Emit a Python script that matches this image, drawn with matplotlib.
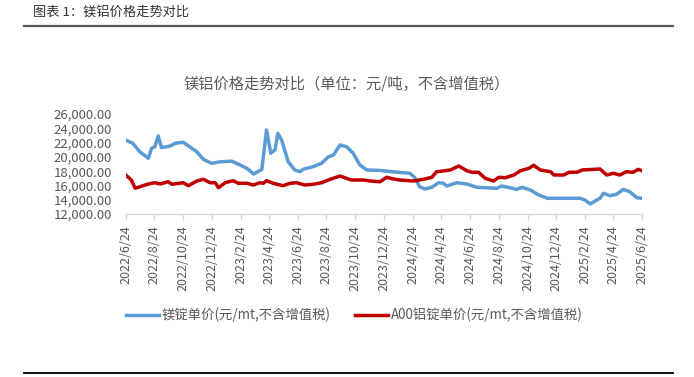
import matplotlib
matplotlib.use('Agg')
import matplotlib.pyplot as plt
from matplotlib.lines import Line2D
import pandas as pd

plt.rcParams['font.family'] = ['Noto Sans CJK SC', 'DejaVu Sans']

# 镁锭单价 (元/mt, 不含增值税)
mg_dates = ['2022-06-24', '2022-07-09', '2022-07-24', '2022-08-11', '2022-08-18', '2022-08-25',
            '2022-09-01', '2022-09-08', '2022-09-26', '2022-10-07', '2022-10-24', '2022-11-07',
            '2022-11-22', '2022-12-06', '2022-12-23', '2023-01-10', '2023-02-04', '2023-02-22',
            '2023-03-08', '2023-03-23', '2023-04-09', '2023-04-19', '2023-04-28', '2023-05-07',
            '2023-05-13', '2023-05-21', '2023-06-04', '2023-06-18', '2023-06-29', '2023-07-06',
            '2023-07-27', '2023-08-14', '2023-08-28', '2023-09-08', '2023-09-22', '2023-10-06',
            '2023-10-20', '2023-11-03', '2023-11-18', '2023-12-16', '2024-01-13', '2024-02-17',
            '2024-02-27', '2024-03-09', '2024-03-20', '2024-04-04', '2024-04-18', '2024-04-28',
            '2024-05-06', '2024-05-27', '2024-06-17', '2024-07-08', '2024-08-20', '2024-08-30',
            '2024-09-17', '2024-10-01', '2024-10-12', '2024-10-30', '2024-11-17', '2024-12-05',
            '2025-02-13', '2025-02-23', '2025-03-06', '2025-03-20', '2025-03-27', '2025-04-03',
            '2025-04-17', '2025-05-01', '2025-05-15', '2025-05-29', '2025-06-13', '2025-06-24']
mg_price = [22360, 21900, 20720, 19800, 21200, 21420,
            22920, 21300, 21500, 21900, 22040, 21400,
            20700, 19650, 19100, 19300, 19400, 18860,
            18400, 17600, 18260, 23760, 20500, 21000,
            23300, 22360, 19300, 18160, 17920, 18260,
            18630, 19100, 20000, 20260, 21660, 21420,
            20500, 18860, 18160, 18100, 17900, 17700,
            17140, 15820, 15500, 15740, 16380, 16300,
            15920, 16380, 16200, 15740, 15600, 15920,
            15680, 15440, 15740, 15360, 14660, 14200,
            14200, 13960, 13400, 13960, 14200, 14900,
            14560, 14760, 15440, 15120, 14280, 14200]

# A00铝锭单价 (元/mt, 不含增值税)
al_dates = ['2022-06-24', '2022-07-06', '2022-07-14', '2022-07-24', '2022-08-11', '2022-08-25',
            '2022-09-05', '2022-09-22', '2022-09-30', '2022-10-24', '2022-11-04', '2022-11-22',
            '2022-12-06', '2022-12-20', '2022-12-31', '2023-01-07', '2023-01-21', '2023-02-07',
            '2023-02-18', '2023-03-08', '2023-03-22', '2023-04-05', '2023-04-12', '2023-04-19',
            '2023-05-03', '2023-05-24', '2023-06-08', '2023-06-22', '2023-07-09', '2023-07-27',
            '2023-08-14', '2023-09-01', '2023-09-22', '2023-10-02', '2023-10-16', '2023-11-10',
            '2023-11-24', '2023-12-16', '2023-12-30', '2024-01-13', '2024-01-27', '2024-02-24',
            '2024-03-17', '2024-04-04', '2024-04-14', '2024-05-02', '2024-05-13', '2024-05-31',
            '2024-06-17', '2024-06-28', '2024-07-12', '2024-07-26', '2024-08-13', '2024-08-24',
            '2024-09-07', '2024-09-25', '2024-10-09', '2024-10-27', '2024-11-06', '2024-11-20',
            '2024-12-12', '2024-12-19', '2025-01-09', '2025-01-20', '2025-02-06', '2025-02-17',
            '2025-03-27', '2025-04-10', '2025-04-24', '2025-05-08', '2025-05-22', '2025-06-05',
            '2025-06-16', '2025-06-24']
al_price = [17460, 16760, 15600, 15820, 16200, 16380,
            16200, 16520, 16160, 16380, 15960, 16620,
            16860, 16380, 16380, 15680, 16380, 16660,
            16300, 16300, 16060, 16380, 16300, 16660,
            16300, 15960, 16300, 16380, 16060, 16160,
            16380, 16860, 17320, 17080, 16760, 16760,
            16620, 16520, 17140, 16900, 16760, 16620,
            16860, 17140, 17920, 18060, 18160, 18720,
            18060, 17840, 17840, 17000, 16620, 17140,
            17080, 17460, 18060, 18400, 18820, 18160,
            17920, 17460, 17460, 17840, 17840, 18160,
            18300, 17460, 17700, 17460, 17920, 17840,
            18260, 18060]

tick_dates = ['2022-06-24', '2022-08-24', '2022-10-24', '2022-12-24', '2023-02-24', '2023-04-24',
              '2023-06-24', '2023-08-24', '2023-10-24', '2023-12-24', '2024-02-24', '2024-04-24',
              '2024-06-24', '2024-08-24', '2024-10-24', '2024-12-24', '2025-02-24', '2025-04-24',
              '2025-06-24']

fig = plt.figure(figsize=(6.94, 3.77), dpi=100)
ax = fig.add_axes([125.7 / 694, 1 - 214 / 377, (642 - 125.7) / 694, 100 / 377])

ax.plot(pd.to_datetime(mg_dates), mg_price, color='#5B9BD5', lw=2.5,
        label='镁锭单价(元/mt,不含增值税)', solid_joinstyle='round')
ax.plot(pd.to_datetime(al_dates), al_price, color='#C00000', lw=2.5,
        label='A00铝锭单价(元/mt,不含增值税)', solid_joinstyle='round')

ax.set_xlim(pd.Timestamp('2022-06-24'), pd.Timestamp('2025-06-24'))
ax.set_ylim(12000, 26000)
ax.set_yticks(range(12000, 26001, 2000))
ax.set_yticklabels([f'{v:,.2f}' for v in range(12000, 26001, 2000)])
ax.set_xticks(pd.to_datetime(tick_dates))
ax.set_xticklabels([f'{d.year}/{d.month}/{d.day}' for d in pd.to_datetime(tick_dates)], rotation=90)

for s in ['top', 'right', 'left']:
    ax.spines[s].set_visible(False)
ax.spines['bottom'].set_color('#D9D9D9')
ax.spines['bottom'].set_linewidth(1.0)
ax.tick_params(axis='x', colors='#D9D9D9', length=4, width=1.0, labelcolor='#595959',
               labelsize=9, pad=4)
ax.tick_params(axis='y', length=0, labelcolor='#595959', labelsize=9.5, pad=10)

fig.text(347 / 694, 1 - 84 / 377, '镁铝价格走势对比（单位：元/吨，不含增值税）',
         ha='center', va='center', fontsize=11, color='#595959')
fig.text(33 / 694, 1 - 12 / 377, '图表 1：镁铝价格走势对比', ha='left', va='center',
         fontsize=9.5, color='#333333')

fig.add_artist(Line2D([24 / 694, 673 / 694], [1 - 26 / 377] * 2, color='#595959', lw=1.6))
fig.add_artist(Line2D([24 / 694, 673 / 694], [1 - 372.7 / 377] * 2, color='#000000', lw=1.3))

leg = fig.legend(loc='center left', bbox_to_anchor=(126 / 694, 1 - 315 / 377), ncol=2,
                 frameon=False, fontsize=9.6, handlelength=2.5, handletextpad=0.2,
                 columnspacing=1.8, borderaxespad=0, borderpad=0)
for t in leg.get_texts():
    t.set_color('#595959')

fig.savefig('out.png', dpi=100)
